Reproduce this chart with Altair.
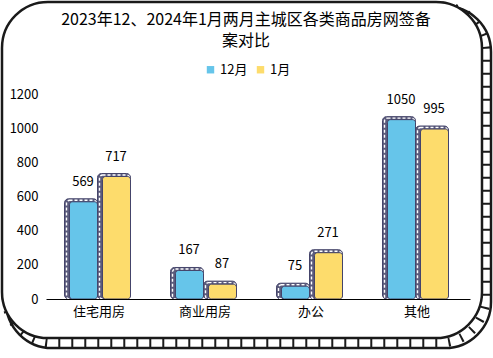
import altair as alt
import pandas as pd

categories = ["住宅用房", "商业用房", "办公", "其他"]
dec_values = [569, 167, 75, 1050]
jan_values = [717, 87, 271, 995]
series_names = ["12月", "1月"]
series_colors = ["#66C5EA", "#FDDC6C"]
y_ticks = [0, 200, 400, 600, 800, 1000, 1200]

rows = []
for c, d, j in zip(categories, dec_values, jan_values):
    rows.append({"cat": c, "series": "12月", "value": d})
    rows.append({"cat": c, "series": "1月", "value": j})
df = pd.DataFrame(rows)

FONT = "Noto Sans CJK SC"
EDGE = "#44446A"

xenc = alt.X("cat:N", sort=categories, title=None,
             scale=alt.Scale(paddingInner=0.0, paddingOuter=0.0),
             axis=alt.Axis(labelAngle=0, ticks=False, domainColor="#000000",
                           domainWidth=1, labelFontSize=13, labelColor="#000000",
                           labelFont=FONT, labelPadding=6, zindex=2))
yenc = alt.Y("value:Q", title=None,
             scale=alt.Scale(domain=[0, 1200], nice=False),
             axis=alt.Axis(values=y_ticks, format="d", grid=False, domain=False,
                           ticks=False, labelFontSize=13, labelColor="#000000",
                           labelFont=FONT, labelPadding=8, zindex=2))
color = alt.Color("series:N", sort=series_names,
                  scale=alt.Scale(domain=series_names, range=series_colors),
                  legend=alt.Legend(title=None, orient="none", direction="horizontal",
                                    legendX=158, legendY=-31, symbolType="square",
                                    symbolSize=55, symbolStrokeWidth=0,
                                    labelFontSize=13, labelFont=FONT,
                                    labelColor="#000000", columnPadding=6,
                                    symbolOffset=0, labelOffset=3, zindex=2))

frame_df = pd.DataFrame({"k": [0]})
outer = alt.Chart(frame_df).mark_rect(
    fill="#ffffff", stroke="#1a1a1a", strokeWidth=2.5, cornerRadius=46
).encode(x=alt.value(-40), x2=alt.value(445), y=alt.value(-88), y2=alt.value(254))
rungs = alt.Chart(frame_df).mark_rect(
    fill="#ffffff", stroke="#1a1a1a", strokeWidth=9, strokeDash=[2, 11], cornerRadius=46
).encode(x=alt.value(-40), x2=alt.value(440), y=alt.value(-88), y2=alt.value(249))
inner = alt.Chart(frame_df).mark_rect(
    fill="#ffffff", stroke="#1a1a1a", strokeWidth=2.5, cornerRadius=46
).encode(x=alt.value(-44), x2=alt.value(436), y=alt.value(-92), y2=alt.value(244))

layers = [outer, rungs, inner]
offsets = {"12月": -16, "1月": 17}
for s in series_names:
    o = offsets[s]
    base = alt.Chart(df).transform_filter(alt.datum.series == s)
    back = base.mark_bar(width=33, xOffset=o - 2, yOffset=-3, fill="#5B5B7C",
                         stroke=EDGE, strokeWidth=1, cornerRadius=4).encode(
        x=xenc, y=yenc, y2=alt.datum(0))
    dash = base.mark_bar(width=30, xOffset=o - 1.5, yOffset=-1.5, fill=None,
                         fillOpacity=0, stroke="#ffffff", strokeWidth=1.4,
                         strokeDash=[3, 2], cornerRadius=3).encode(
        x=xenc, y=yenc, y2=alt.datum(0))
    front = base.mark_bar(width=28, xOffset=o + 0.5, stroke=EDGE, strokeWidth=1,
                          cornerRadius=3).encode(
        x=xenc, y=yenc, y2=alt.datum(0), color=color)
    label = base.mark_text(xOffset=o, dy=-20, fontSize=13, font=FONT,
                           color="#000000", baseline="middle").encode(
        x=xenc, y=yenc, text=alt.Text("value:Q"))
    layers += [back, dash, front, label]

chart = alt.layer(*layers).properties(
    width=424, height=205,
    autosize=alt.AutoSizeParams(type="none"),
    padding={"left": 46, "top": 94, "right": 23, "bottom": 59},
    title=alt.TitleParams(
        text=["2023年12、2024年1月两月主城区各类商品房网签备", "案对比"],
        fontSize=16, font=FONT, fontWeight="normal", color="#000000",
        anchor="middle", dx=-12, offset=-48, lineHeight=21, zindex=2),
).configure_view(stroke=None)

chart.save("out.html", embed_options={"renderer": "svg", "actions": False})
